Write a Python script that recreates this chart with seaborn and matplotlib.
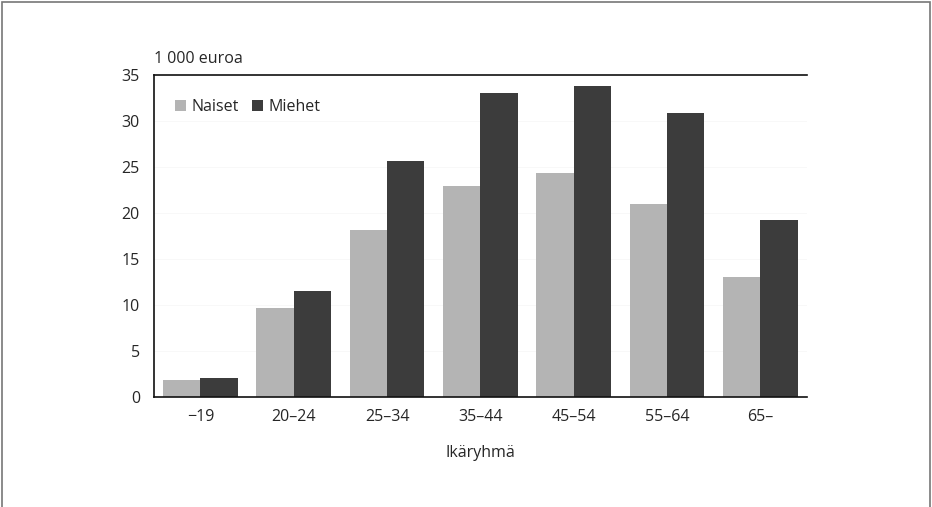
import pandas as pd
import matplotlib
matplotlib.use("Agg")
import matplotlib.pyplot as plt
import seaborn as sns
from matplotlib.patches import Rectangle

ikaryhmat = ["\u221219", "20\u201324", "25\u201334", "35\u201344", "45\u201354", "55\u201364", "65\u2013"]
naiset = [1.9, 9.7, 18.2, 22.9, 24.3, 21.0, 13.0]
miehet = [2.1, 11.5, 25.7, 33.1, 33.8, 30.9, 19.2]
sarjat = ["Naiset", "Miehet"]
varit = ["#b4b4b4", "#3c3c3c"]

df = pd.DataFrame({
    "ika": ikaryhmat * 2,
    "arvo": naiset + miehet,
    "sukupuoli": ["Naiset"] * len(naiset) + ["Miehet"] * len(miehet),
})

sns.set_style("white")
plt.rcParams["font.family"] = ["Open Sans", "DejaVu Sans"]

fig = plt.figure(figsize=(9.32, 5.07), dpi=100)
ax = fig.add_axes([0.165, 0.217, 0.701, 0.635])

sns.barplot(data=df, x="ika", y="arvo", hue="sukupuoli", hue_order=sarjat,
            palette=varit, width=0.8, dodge=True, gap=0, saturation=1,
            edgecolor="none", ax=ax)

fs = 11.5
ax.set_ylim(0, 35)
ax.set_yticks(range(0, 36, 5))
ax.set_xlim(-0.5, len(ikaryhmat) - 0.5)
ax.tick_params(axis="both", labelsize=fs, length=0, pad=9)
ax.tick_params(axis="y", pad=10)
ax.set_xlabel("Ikäryhmä", fontsize=fs, labelpad=14)
ax.set_ylabel("")
ax.text(0.0, 1.025, "1 000 euroa", transform=ax.transAxes, fontsize=fs,
        ha="left", va="bottom")

for s in ["left", "bottom", "top"]:
    ax.spines[s].set_visible(True)
    ax.spines[s].set_color("#111111")
    ax.spines[s].set_linewidth(1.2)
ax.spines["right"].set_visible(False)
ax.grid(axis="y", color="#f5f5f5", linewidth=0.5)
ax.set_axisbelow(True)

leg = ax.legend(loc="upper left", bbox_to_anchor=(0.01, 0.97), ncol=2,
                frameon=False, fontsize=fs, handlelength=0.7,
                handleheight=0.7, handletextpad=0.35, columnspacing=0.8)

fig.patches.append(Rectangle((0.002, -0.01), 0.996, 1.006, transform=fig.transFigure,
                             fill=False, edgecolor="#777777", linewidth=1.2))

fig.savefig("out.png", dpi=100)
